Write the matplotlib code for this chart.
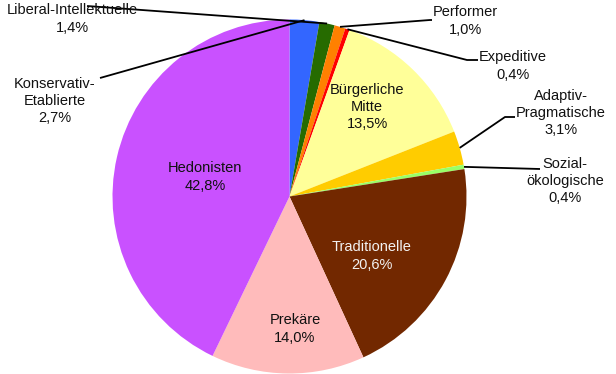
import numpy as np
import matplotlib.pyplot as plt

# Sinus-Milieus, share in percent
milieus = ["Konservativ-\nEtablierte", "Liberal-Intellektuelle", "Performer", "Expeditive",
           "Bürgerliche\nMitte", "Adaptiv-\nPragmatische", "Sozial-\nökologische",
           "Traditionelle", "Prekäre", "Hedonisten"]
shares = [2.7, 1.4, 1.0, 0.4, 13.5, 3.1, 0.4, 20.6, 14.0, 42.8]
colors = ["#3366FF", "#266B00", "#FF8000", "#FF0000", "#FFFF99", "#FFCC00",
          "#99FF66", "#722800", "#FFBBBB", "#C951FF"]

# layout in pixels: pie centre, radius and label anchors
CX, CY, R = 289.5, 196.5, 177.0
W, H = 616, 374


def to_data(px, py):
    return (px - CX) / R, (CY - py) / R


# label centre, then leader-line points (outer end first); None = label inside the wedge
label_pos = [(55, 101), (72, 19), (465, 21), (513, 66), (367, 107),
             (561, 113), (565, 181), (372, 256), (295, 329), (205, 177)]
leaders = [[(100, 78)], [(87, 6)], [(432, 20), (430, 20)], [(478, 60), (467, 60)], None,
           [(515, 117), (505, 117)], [(540, 169)], None, None, None]

plt.rcParams["font.family"] = ["Liberation Sans", "DejaVu Sans"]

fig = plt.figure(figsize=(W / 100, H / 100), dpi=100)
ax = fig.add_axes([0, 0, 1, 1])

wedges, _ = ax.pie(shares, colors=colors, startangle=90, counterclock=False,
                   radius=1.0, center=(0, 0), wedgeprops=dict(linewidth=0))

for w, name, val, pos, lead in zip(wedges, milieus, shares, label_pos, leaders):
    text = f"{name}\n{val:.1f}%".replace(".", ",")
    tx, ty = to_data(*pos)
    col = "#F2F2F2" if name == "Traditionelle" else "#111111"
    ax.text(tx, ty, text, ha="center", va="center", fontsize=10.5,
            color=col, linespacing=1.28)
    if lead is not None:
        mid = np.deg2rad((w.theta1 + w.theta2) / 2)
        pts = [to_data(*p) for p in lead] + [(np.cos(mid), np.sin(mid))]
        xs, ys = zip(*pts)
        ax.plot(xs, ys, color="black", lw=1.3, solid_capstyle="butt", clip_on=False)

x0, y0 = to_data(0, H)
x1, y1 = to_data(W, 0)
ax.set_xlim(x0, x1)
ax.set_ylim(y0, y1)
ax.set_aspect("auto")
ax.axis("off")

fig.savefig("out.png", dpi=100)
